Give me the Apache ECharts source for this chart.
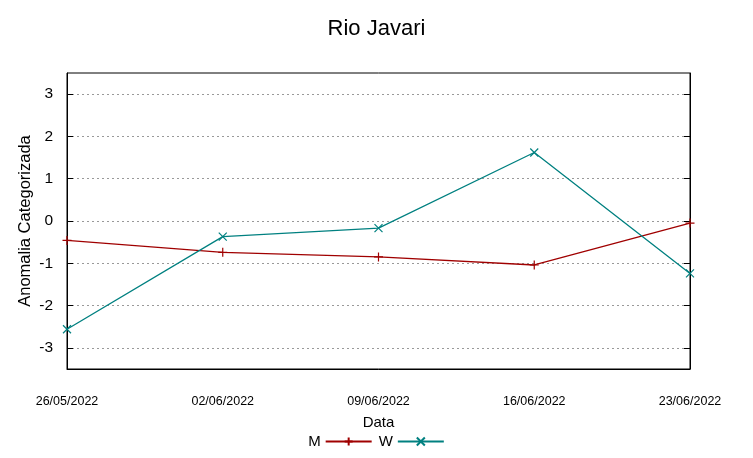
<!DOCTYPE html>
<html><head><meta charset="utf-8">
<script src="https://cdn.jsdelivr.net/npm/echarts@6/dist/echarts.min.js"></script>
<style>html,body{margin:0;padding:0;background:#fff}#c{width:753px;height:458px}</style>
</head><body><div id="c"></div>
<script>
const dates = ['26/05/2022','02/06/2022','09/06/2022','16/06/2022','23/06/2022'];
const seriesM = [-0.46, -0.74, -0.85, -1.04, -0.05];
const seriesW = [-2.56, -0.37, -0.17, 1.62, -1.24];
const yTicks = [-3, -2, -1, 0, 1, 2, 3];

const FONT = 'Liberation Sans';
const chart = echarts.init(document.getElementById('c'), null, {renderer: 'canvas'});
const plus = 'path://M5,0L5,10M0,5L10,5';
const cross = 'path://M0,0L10,10M10,0L0,10';
const yBase = {
  type: 'value', min: -3.5, max: 3.5,
  axisLine: {show: true, onZero: false, lineStyle: {color: '#000'}},
  axisTick: {show: true, inside: true, length: 6, customValues: yTicks, lineStyle: {color: '#000'}}
};
chart.setOption({
  animation: false,
  textStyle: {fontFamily: FONT},
  title: {text: 'Rio Javari', left: 'center', top: 13,
    textStyle: {fontFamily: FONT, fontSize: 22, fontWeight: 'normal', color: '#000'}},
  legend: {
    bottom: 4, left: 'center', align: 'right', itemGap: 6, itemWidth: 46, itemHeight: 10,
    textStyle: {fontFamily: FONT, fontSize: 15, color: '#000'},
    data: ['M', 'W']
  },
  grid: {left: 67, right: 63, top: 73, bottom: 89, show: true, borderColor: '#000', borderWidth: 1},
  xAxis: {
    type: 'category', data: dates, boundaryGap: false,
    name: 'Data', nameLocation: 'middle', nameGap: 46,
    nameTextStyle: {fontFamily: FONT, fontSize: 15, color: '#000'},
    axisLine: {onZero: false, lineStyle: {color: '#000'}},
    axisTick: {show: false},
    axisLabel: {margin: 26, fontSize: 12.5, color: '#000', fontFamily: FONT}
  },
  yAxis: [
    Object.assign({}, yBase, {
      name: 'Anomalia Categorizada', nameLocation: 'middle', nameGap: 33, nameMoveOverlap: false,
      nameTextStyle: {fontFamily: FONT, fontSize: 16.5, color: '#000'},
      axisLabel: {customValues: yTicks, fontSize: 15.5, color: '#000', margin: 14, fontFamily: FONT},
      splitLine: {show: true, customValues: yTicks, lineStyle: {color: '#999', type: [2, 3], width: 1}}
    }),
    Object.assign({}, yBase, {
      position: 'right', axisLabel: {show: false}, splitLine: {show: false}
    })
  ],
  series: [
    {name: 'M', type: 'line', data: seriesM, symbol: plus, symbolSize: 9, showSymbol: true,
      lineStyle: {color: '#a00000', width: 1.3},
      itemStyle: {color: 'rgba(0,0,0,0)', borderColor: '#a00000', borderWidth: 1.2}},
    {name: 'W', type: 'line', data: seriesW, symbol: cross, symbolSize: 8, showSymbol: true,
      lineStyle: {color: '#008080', width: 1.3},
      itemStyle: {color: 'rgba(0,0,0,0)', borderColor: '#008080', borderWidth: 1.2}}
  ]
});
</script></body></html>
